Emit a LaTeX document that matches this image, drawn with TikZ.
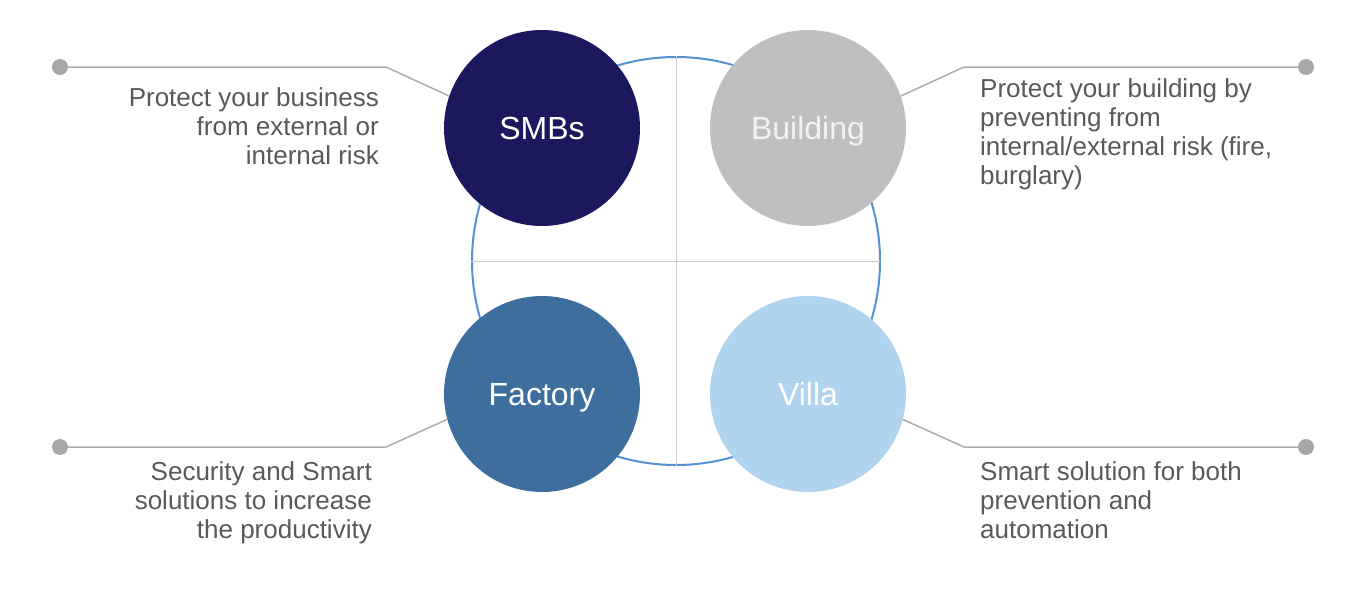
\documentclass[tikz,border=0pt]{standalone}
\usepackage{fontspec}
\setmainfont{Liberation Sans}
\definecolor{smbs}{RGB}{27,24,94}
\definecolor{bldg}{RGB}{191,191,191}
\definecolor{fact}{RGB}{62,110,158}
\definecolor{villa}{RGB}{176,211,238}
\definecolor{ring}{RGB}{83,145,212}
\definecolor{txt}{RGB}{89,89,89}
\definecolor{leadgray}{RGB}{172,172,172}
\begin{document}
\begin{tikzpicture}[x=1pt,y=-1pt,
	disc/.style={circle, minimum size=196pt, inner sep=0pt, text=white, text height=23pt, text depth=0pt, font=\fontsize{32}{36}\selectfont},
	dot/.style={circle, fill=leadgray!97!black, minimum size=16pt, inner sep=0pt},
	leadline/.style={leadgray, line width=1.5pt},
	desc/.style={inner sep=0pt, text=txt, font=\fontsize{26}{29}\selectfont}]
	\useasboundingbox (0,0) rectangle (1364,594);

	\node[circle, draw=ring, line width=2pt, minimum size=408pt, inner sep=0pt] (R) at (676,261) {};
	\draw[gray!40, line width=1pt] (R.west) -- (R.east);
	\draw[gray!40, line width=1pt] (R.north) -- (R.south);

	\node[disc, fill=smbs] (S) at (542,128) {SMBs};
	\node[disc, fill=bldg, text=white!95!black] (B) at (808,128) {Building};
	\node[disc, fill=fact] (F) at (542,394) {Factory};
	\node[disc, fill=villa] (V) at (808,394) {Villa};

	\node[dot] (S') at (60,67) {};
		\coordinate (s) at (386,67);
		\draw[leadline] (S') -- (s) -- (S.161);
	\node[dot] (B') at (1306,67) {};
		\coordinate (b) at (964,67);
		\draw[leadline] (B') -- (b) -- (B.19);
	\node[dot] (F') at (60,447) {};
		\coordinate (f) at (386,447);
		\draw[leadline] (F') -- (f) -- (F.195);
	\node[dot] (V') at (1306,447) {};
		\coordinate (v) at (964,447);
		\draw[leadline] (V') -- (v) -- (V.345);

	\node[desc, align=right, anchor=north east] (S'') at (379,87) {Protect your business\\from external or\\internal risk};
	\node[desc, align=left, anchor=north west] (B'') at (980,78) {Protect your building by\\preventing from\\internal/external risk (fire,\\burglary)};
	\node[desc, align=right, anchor=north east] (F'') at (372,461) {Security and Smart\\solutions to increase\\the productivity};
	\node[desc, align=left, anchor=north west] (V'') at (980,461) {Smart solution for both\\prevention and\\automation};
\end{tikzpicture}
\end{document}
